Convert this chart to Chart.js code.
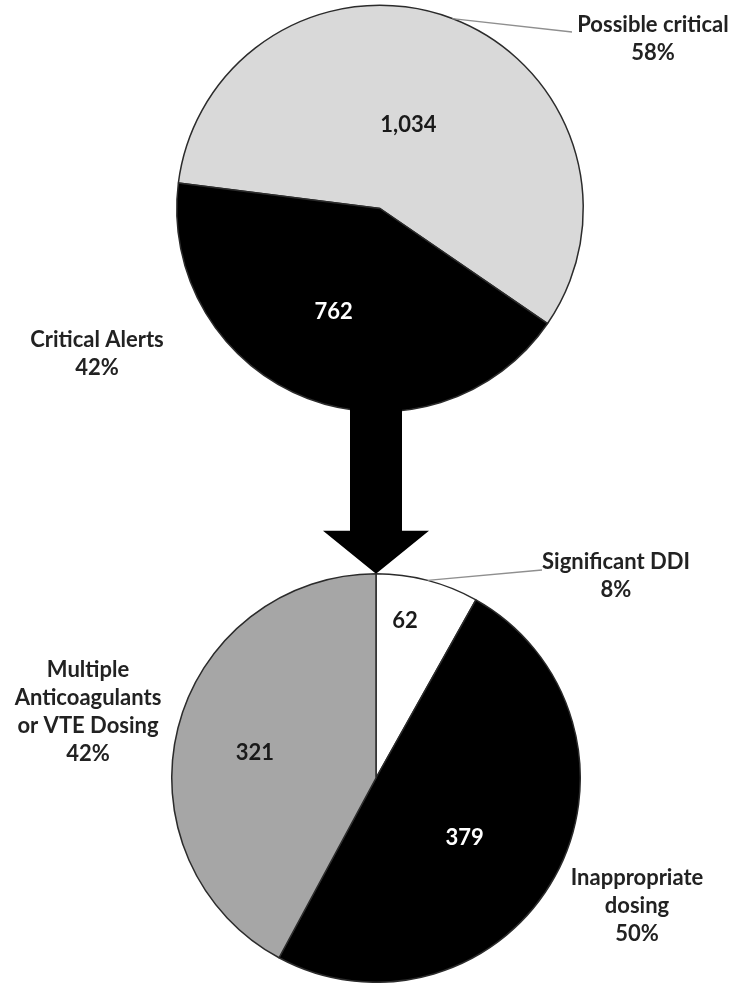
<!DOCTYPE html>
<html>
<head>
<meta charset="utf-8">
<script src="https://cdn.jsdelivr.net/npm/chart.js@4.4.1/dist/chart.umd.min.js"></script>
<style>
  body { margin: 0; background: #fff; }
  #wrap { position: relative; width: 748px; height: 983px; }
  #wrap canvas { position: absolute; left: 0; top: 0; }
</style>
</head>
<body>
<div id="wrap">
  <canvas id="alertsChart" width="748" height="983"></canvas>
  <canvas id="criticalChart" width="748" height="983"></canvas>
</div>
<script>
// all alerts
const alertNames = [['Possible critical'], ['Critical Alerts']];
const alertCounts = [1034, 762];

// what the critical alerts were about
const criticalNames = [['Significant DDI'], ['Inappropriate', 'dosing'], ['Multiple', 'Anticoagulants', 'or VTE Dosing']];
const criticalCounts = [62, 379, 321];

const FONT = 'bold 22px Lato, "Open Sans", sans-serif';
const LINE = 28;

// numbers inside the slices + name/percent outside, with an optional leader line
// inside: [fraction of radius, angle shift from the slice middle in degrees]
const sliceLabels = {
  id: 'sliceLabels',
  afterDatasetsDraw(chart, args, opts) {
    const ctx = chart.ctx;
    const arcs = chart.getDatasetMeta(0).data;
    const values = chart.data.datasets[0].data;
    const total = values.reduce((a, b) => a + b, 0);
    ctx.save();
    ctx.font = FONT;
    ctx.textAlign = 'center';
    arcs.forEach((arc, i) => {
      const mid = (arc.startAngle + arc.endAngle) / 2;
      const [f, shift] = opts.inside[i];
      const a = mid + shift * Math.PI / 180;
      const d = arc.outerRadius * f;
      ctx.textBaseline = 'middle';
      ctx.fillStyle = opts.valueColors[i];
      ctx.fillText(values[i].toLocaleString('en-US'), arc.x + Math.cos(a) * d, arc.y + Math.sin(a) * d);

      const out = opts.outside[i];
      if (out.leader) {
        ctx.strokeStyle = '#8f8f8f';
        ctx.lineWidth = 1.3;
        ctx.beginPath();
        ctx.moveTo(arc.x + Math.cos(mid) * arc.outerRadius, arc.y + Math.sin(mid) * arc.outerRadius);
        ctx.lineTo(out.leader[0], out.leader[1]);
        ctx.stroke();
      }
      const lines = chart.data.labels[i].concat(Math.round(values[i] / total * 100) + '%');
      ctx.textBaseline = 'alphabetic';
      ctx.fillStyle = '#222';
      lines.forEach((t, k) => ctx.fillText(t, out.x, out.y + k * LINE));
    });
    ctx.restore();
  }
};

// block arrow from the first pie down to the second one
const flowArrow = {
  id: 'flowArrow',
  beforeDatasetsDraw(chart) {
    const upper = alertsChart.getDatasetMeta(0).data[0];
    const arc = chart.getDatasetMeta(0).data[0];
    const cx = arc.x;
    const y0 = upper.y + upper.outerRadius - 10;
    const tip = arc.y - arc.outerRadius;
    const neck = tip - 43;
    const ctx = chart.ctx;
    ctx.save();
    ctx.fillStyle = '#000';
    ctx.beginPath();
    ctx.moveTo(cx - 26, y0);
    ctx.lineTo(cx + 26, y0);
    ctx.lineTo(cx + 26, neck);
    ctx.lineTo(cx + 53, neck);
    ctx.lineTo(cx, tip);
    ctx.lineTo(cx - 53, neck);
    ctx.lineTo(cx - 26, neck);
    ctx.closePath();
    ctx.fill();
    ctx.restore();
  }
};

const baseOptions = {
  responsive: false,
  animation: false,
  events: [],
  plugins: { legend: { display: false }, tooltip: { enabled: false } }
};

const alertsChart = new Chart(document.getElementById('alertsChart'), {
  type: 'pie',
  data: {
    labels: alertNames,
    datasets: [{
      data: alertCounts,
      backgroundColor: ['#d9d9d9', '#000000'],
      borderColor: '#2b2b2b',
      borderWidth: 1.5
    }]
  },
  options: {
    ...baseOptions,
    rotation: -82.8,
    layout: { padding: { left: 176, right: 164, top: 4, bottom: 570 } },
    plugins: {
      ...baseOptions.plugins,
      sliceLabels: {
        inside: [[0.433, -2], [0.558, 3.3]],
        valueColors: ['#1a1a1a', '#ffffff'],
        outside: [
          { x: 653, y: 32, leader: [572, 32] },
          { x: 97, y: 347 }
        ]
      }
    }
  },
  plugins: [sliceLabels]
});

const criticalChart = new Chart(document.getElementById('criticalChart'), {
  type: 'pie',
  data: {
    labels: criticalNames,
    datasets: [{
      data: criticalCounts,
      backgroundColor: ['#ffffff', '#000000', '#a6a6a6'],
      borderColor: '#2b2b2b',
      borderWidth: 1.5
    }]
  },
  options: {
    ...baseOptions,
    rotation: 0,
    layout: { padding: { left: 171, right: 167, top: 573, bottom: 0 } },
    plugins: {
      ...baseOptions.plugins,
      sliceLabels: {
        inside: [[0.783, -4.2], [0.524, 5.2], [0.606, -2.3]],
        valueColors: ['#1a1a1a', '#ffffff', '#1a1a1a'],
        outside: [
          { x: 616, y: 569, leader: [542, 570] },
          { x: 637, y: 885 },
          { x: 88, y: 677 }
        ]
      }
    }
  },
  plugins: [flowArrow, sliceLabels]
});
</script>
</body>
</html>
